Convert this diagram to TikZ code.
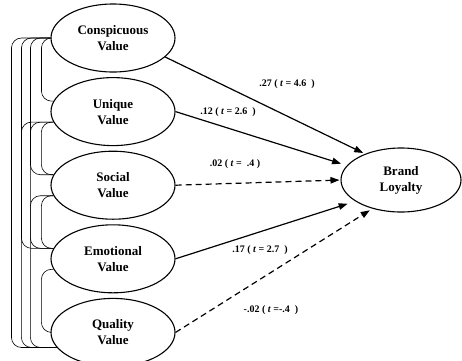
\documentclass[tikz,border=0pt]{standalone}
\usepackage{fontspec}
\setmainfont{Liberation Serif}
\usetikzlibrary{positioning, arrows.meta, shapes.geometric}
\tikzset{
  % Construct ellipse
  factor/.style={
    ellipse, draw, line width=1.1pt,
    minimum width=124pt, minimum height=68pt, inner sep=0pt,
    font=\fontsize{13}{16}\selectfont\bfseries, align=center
  },
  % Outcome ellipse
  outcome/.style={factor, minimum width=120pt, minimum height=64pt},
  % Path arrows
  arr/.style={-{Triangle[length=9pt,width=6.5pt]}, line width=1.2pt},
  dasharr/.style={arr, dash pattern=on 6pt off 4pt},
  % Correlation brackets
  corr/.style={line width=0.6pt, rounded corners=10pt},
  % Coefficient labels
  coef/.style={font=\fontsize{10}{12}\selectfont\bfseries},
}
\begin{document}
\begin{tikzpicture}[x=1pt, y=-1pt]
  \useasboundingbox (0,0) rectangle (462,360);
  \node[factor] (cv) at (113,38) {Conspicuous\\Value};
  \node[factor, below=4.5pt of cv] (uv) {Unique\\Value};
  \node[factor, below=4.5pt of uv] (sv) {Social\\Value};
  \node[factor, below=4.5pt of sv] (ev) {Emotional\\Value};
  \node[factor, below=4.5pt of ev] (qv) {Quality\\Value};
  \node[outcome] (bl) at (401,180) {Brand\\Loyalty};
  % paths
  \draw[arr, shorten >=2pt] (cv.-20) -- (bl.144);
  \draw[arr, shorten >=6pt] (uv.east) -- (bl.165);
  \draw[dasharr, shorten >=1pt] (sv.east) -- (bl.west);
  \draw[arr, shorten >=8pt] (ev.east) -- (bl.205);
  \draw[dasharr, shorten >=3pt] (qv.east) -- (bl.225);
  \node[coef] (c1) at (287,84)  {.27 ( \textit{t} = 4.6 \ )};
  \node[coef] (c2) at (228,112) {.12 ( \textit{t} = 2.6 \ )};
  \node[coef] (c3) at (235,164) {.02 ( \textit{t} = \ .4 )};
  \node[coef] (c4) at (260,250) {.17 ( \textit{t} = 2.7 \ )};
  \node[coef] (c5) at (271,310) {-.02 ( \textit{t} =-.4 \ )};
  % correlations
  \draw[corr] (cv.west) -- ++(-9,0) |- (uv.170);
  \draw[corr] (uv.190) -- ++(-12,0) |- (sv.170);
  \draw[corr] (sv.190) -- ++(-12,0) |- (ev.170);
  \draw[corr] (ev.190) -- ++(-12,0) |- (qv.west);
  \draw[corr] (cv.west) -- ++(-20,0) |- (sv.170);
  \draw[corr] (uv.190) -- ++(-23,0) |- (ev.170);
  \draw[corr] (sv.190) -- ++(-23,0) |- (qv.195);
  \draw[corr] (cv.west) -- ++(-29,0) |- (ev.170);
  \draw[corr] (uv.190) -- ++(-32,0) |- (qv.195);
  \draw[corr] (cv.west) -- ++(-39,0) |- (qv.195);
\end{tikzpicture}
\end{document}
